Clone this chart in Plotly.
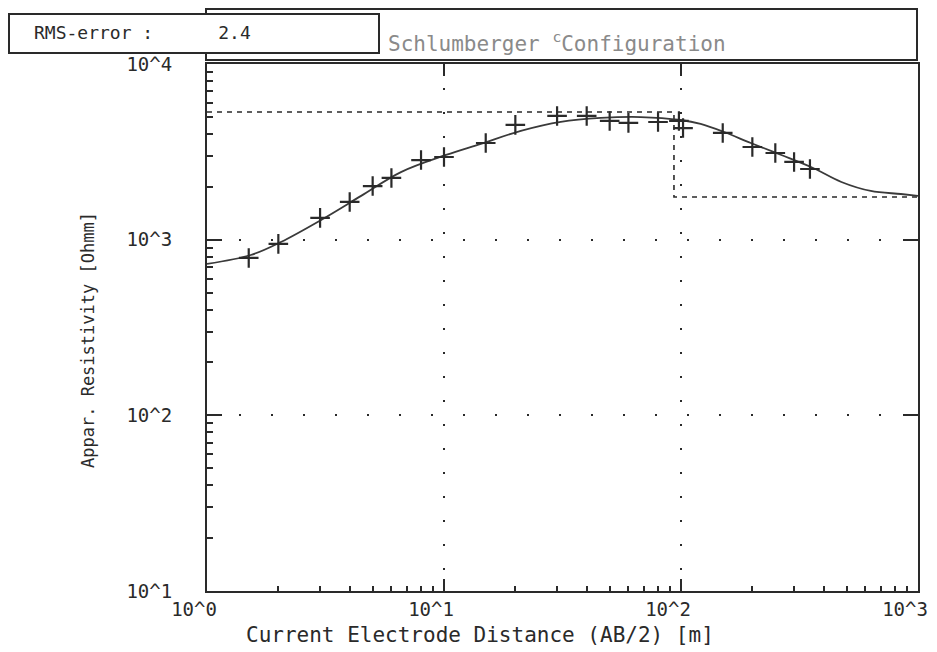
import plotly.graph_objects as go

# ---- data ----
ab2_meas = [1.5, 2, 3, 4, 5, 6, 8, 10, 15, 20, 30, 40, 50, 60, 80, 98, 102, 150, 200, 250, 300, 350]
rho_meas = [787, 946, 1330, 1640, 2020, 2245, 2840, 2955, 3550, 4500, 5060, 5060, 4740, 4620,
            4675, 4740, 4320, 4050, 3370, 3115, 2770, 2525]

ab2_curve = [1.0, 1.53, 2.05, 3.03, 4.47, 6.58, 10.2, 14.3, 21.1, 31.1, 45.9, 67.6, 99.8,
             121, 152, 197, 265, 361, 475, 632, 847, 1000]
rho_curve = [728, 818, 970, 1295, 1775, 2425, 3035, 3510, 4160, 4680, 4930, 4990, 4800,
             4560, 4100, 3550, 3035, 2560, 2130, 1893, 1820, 1775]

model_depth = [1.0, 93.4, 93.4, 1000]
model_rho = [5330, 5330, 1750, 1750]

x_tickvals = [1, 10, 100, 1000]
x_ticktext = ["10^0", "10^1", "10^2", "10^3"]
y_tickvals = [10, 100, 1000, 10000]
y_ticktext = ["10^1", "10^2", "10^3", "10^4"]

rms_text = "RMS-error :      2.4"
title_text = "Schlumberger <sup>c</sup>Configuration"
x_title = "Current Electrode Distance (AB/2) [m]"
y_title = "Appar. Resistivity [Ohmm]"

FONT = "DejaVu Sans Mono"
INK = "#2a2a2a"

fig = go.Figure()

fig.add_trace(go.Scatter(x=model_depth, y=model_rho, mode="lines",
                         line=dict(color=INK, width=1.6, dash="5px,5px"),
                         hoverinfo="skip", showlegend=False))
fig.add_trace(go.Scatter(x=ab2_curve, y=rho_curve, mode="lines", line_shape="spline",
                         line=dict(color="#3a3a3a", width=1.8), showlegend=False))
fig.add_trace(go.Scatter(x=ab2_meas, y=rho_meas, mode="markers",
                         marker=dict(symbol="cross-thin", size=14,
                                     line=dict(color=INK, width=2.2)),
                         showlegend=False))
# helper trace for mirrored top/right axes
fig.add_trace(go.Scatter(x=[1], y=[10], xaxis="x2", yaxis="y2", mode="markers",
                         marker=dict(opacity=0), hoverinfo="skip", showlegend=False))

W, H = 937, 652
L, R, T, B = 207, 918, 64, 591


def px(x):
    return (x - L) / (R - L)


def py(y):
    return (B - y) / (B - T)


fig.update_layout(
    width=W, height=H,
    margin=dict(l=L, r=W - R, t=T, b=H - B),
    paper_bgcolor="white", plot_bgcolor="white",
    font=dict(family=FONT, size=16, color=INK),
    xaxis=dict(type="log", range=[0, 3], tickvals=x_tickvals, ticktext=x_ticktext,
               ticks="inside", ticklen=12, tickwidth=2, tickcolor=INK,
               minor=dict(dtick="D1", ticks="inside", ticklen=5, tickwidth=2,
                          tickcolor=INK, showgrid=False),
               showline=True, linewidth=2, linecolor=INK,
               showgrid=True, gridcolor=INK, gridwidth=2, griddash="2px,22px",
               zeroline=False, ticklabelshift=-13, ticklabelstandoff=0,
               tickfont=dict(size=19), automargin=False),
    yaxis=dict(type="log", range=[1, 4], tickvals=y_tickvals, ticktext=y_ticktext,
               ticks="inside", ticklen=15, tickwidth=2, tickcolor=INK,
               minor=dict(dtick="D1", ticks="inside", ticklen=6, tickwidth=2,
                          tickcolor=INK, showgrid=False),
               showline=True, linewidth=2, linecolor=INK,
               showgrid=True, gridcolor=INK, gridwidth=2, griddash="2px,30px",
               zeroline=False, ticklabelstandoff=29,
               tickfont=dict(size=19), automargin=False),
    xaxis2=dict(type="log", range=[0, 3], overlaying="x", side="top", anchor="y",
                tickvals=x_tickvals, ticks="inside", ticklen=12, tickwidth=2,
                tickcolor=INK, showticklabels=False, showline=True, linewidth=2,
                linecolor=INK, showgrid=False, zeroline=False),
    yaxis2=dict(type="log", range=[1, 4], overlaying="y", side="right", anchor="x",
                tickvals=y_tickvals, ticks="inside", ticklen=15, tickwidth=2,
                tickcolor=INK, showticklabels=False, showline=True, linewidth=2,
                linecolor=INK, showgrid=False, zeroline=False),
    shapes=[
        dict(type="rect", xref="paper", yref="paper",
             x0=px(206), x1=px(917), y0=py(60), y1=py(9),
             line=dict(color=INK, width=2), fillcolor="white", layer="above"),
        dict(type="rect", xref="paper", yref="paper",
             x0=px(9), x1=px(379), y0=py(53), y1=py(14),
             line=dict(color=INK, width=2), fillcolor="white", layer="above"),
    ],
    annotations=[
        dict(text=rms_text, xref="paper", yref="paper", x=px(32), y=py(33),
             xanchor="left", yanchor="middle", showarrow=False,
             font=dict(family=FONT, size=18, color=INK)),
        dict(text=title_text, xref="paper", yref="paper", x=px(386), y=py(42),
             xanchor="left", yanchor="middle", showarrow=False,
             font=dict(family=FONT, size=21, color="#8a8a8a")),
        dict(text=x_title, xref="paper", yref="paper", x=px(480), y=py(635),
             xanchor="center", yanchor="middle", showarrow=False,
             font=dict(family=FONT, size=21, color=INK)),
        dict(text=y_title, xref="paper", yref="paper", x=px(88), y=py(340),
             xanchor="center", yanchor="middle", showarrow=False, textangle=-90,
             font=dict(family=FONT, size=17, color=INK)),
    ],
)

fig.write_html("out.html")
